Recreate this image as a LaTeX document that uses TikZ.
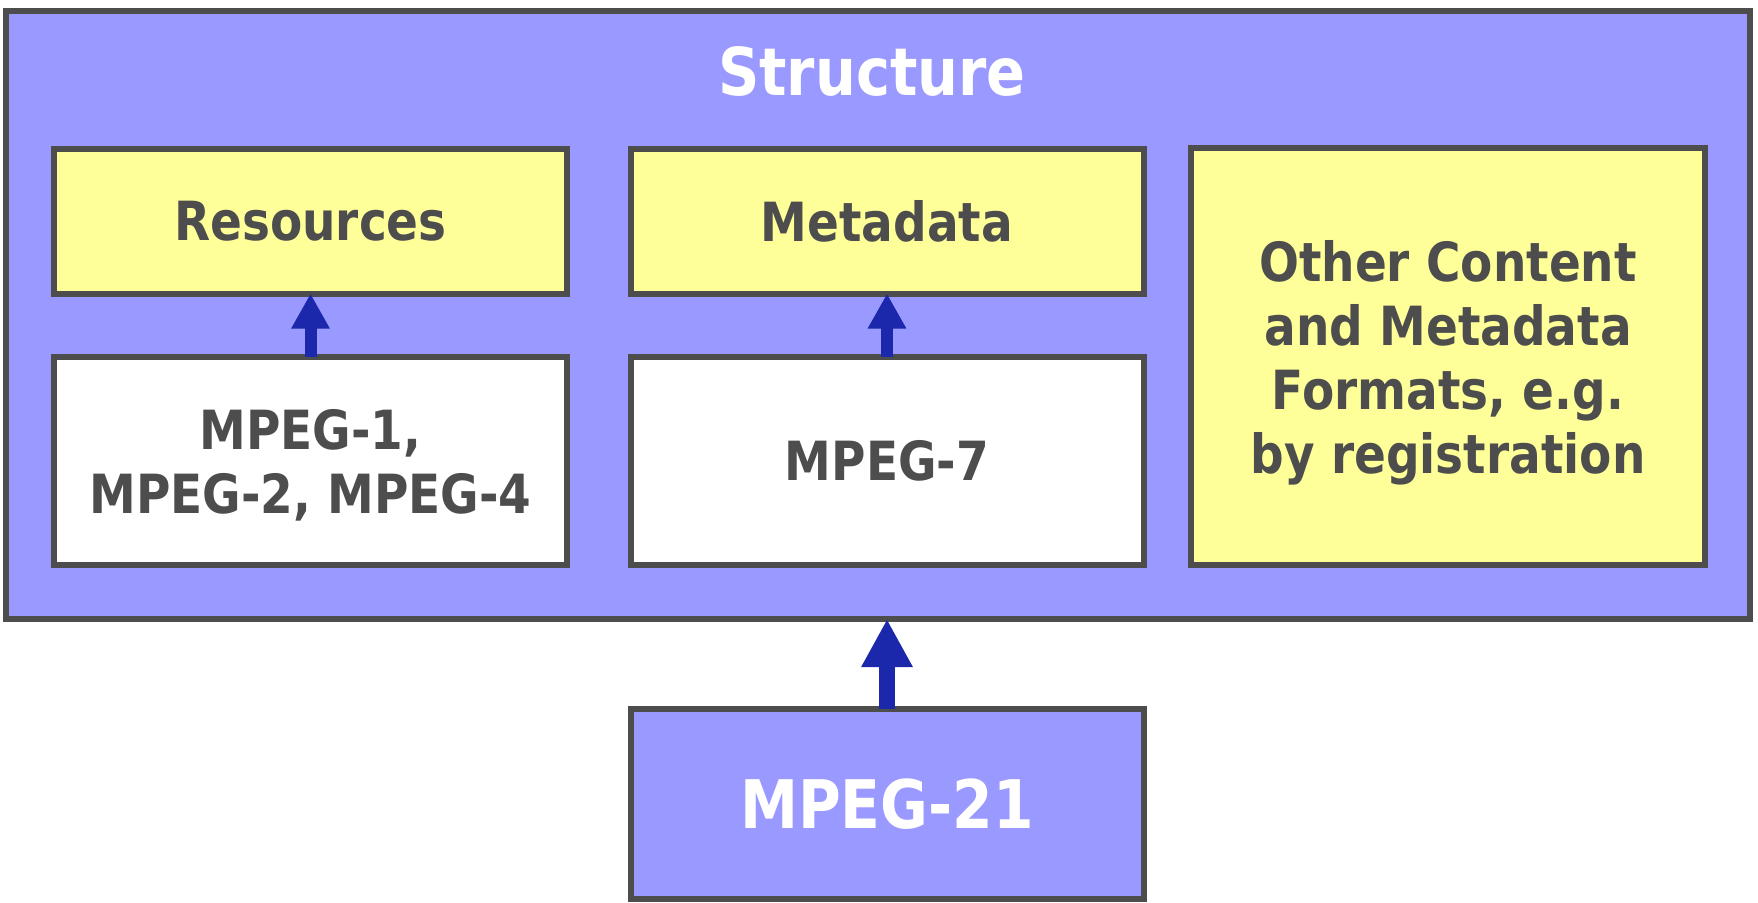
\documentclass[tikz,border=0pt]{standalone}
\usepackage{fontspec}
\setmainfont{DejaVu Sans}
\newfontfamily\boxfont[FakeStretch=0.87]{DejaVu Sans Bold}
\usetikzlibrary{arrows.meta}
\definecolor{boxblue}{HTML}{9999FF}
\definecolor{boxyellow}{HTML}{FFFF99}
\definecolor{edgegray}{HTML}{4D4D4D}
\definecolor{arrowblue}{HTML}{1B28AB}
\tikzset{
  panel/.style={draw=edgegray, line width=6pt, rectangle, inner sep=0pt, outer sep=0pt,
    align=center, text=edgegray, font=\boxfont\fontsize{54}{64}\selectfont},
  yellowbox/.style={panel, fill=boxyellow},
  whitebox/.style={panel, fill=white},
  bluebox/.style={panel, fill=boxblue},
  smallarrow/.style={draw=arrowblue, line width=12pt, -{Triangle[width=36pt,length=35pt]}},
  bigarrow/.style={draw=arrowblue, line width=16pt, -{Triangle[width=48pt,length=48pt]}},
}
\begin{document}
\begin{tikzpicture}[x=1pt,y=-1pt]
\useasboundingbox (0,0) rectangle (1758,902);
% outer structure box
\node[bluebox, minimum width=1744pt, minimum height=608pt] (outer) at (878,315) {};
\node[text=white, font=\boxfont\fontsize{66}{78}\selectfont, anchor=base] (title) at (872,95) {Structure};
% inner boxes
\node[yellowbox, minimum width=513pt, minimum height=145pt] (res) at (310.5,221) {Resources};
\node[yellowbox, minimum width=513pt, minimum height=145pt] (meta) at (887,221) {Metadata};
\node[yellowbox, minimum width=514pt, minimum height=417pt, text depth=0pt] (other) at (1448,356.5)
  {Other Content\\and Metadata\\Formats, e.g.\\by registration};
\node[whitebox, minimum width=513pt, minimum height=208pt, text depth=0pt] (m124) at (310.5,461) {MPEG-1,\\MPEG-2, MPEG-4};
\node[whitebox, minimum width=513pt, minimum height=208pt] (m7) at (887,461) {MPEG-7};
\node[bluebox, minimum width=513pt, minimum height=190pt, text=white,
  font=\boxfont\fontsize{67}{78}\selectfont] (m21) at (887,804) {MPEG-21};
% arrows
\draw[smallarrow] (m124.north) -- (res.south);
\draw[smallarrow] (m7.north) -- (meta.south);
\draw[bigarrow] (m21.north) -- (m21.north |- outer.south);
\end{tikzpicture}
\end{document}
